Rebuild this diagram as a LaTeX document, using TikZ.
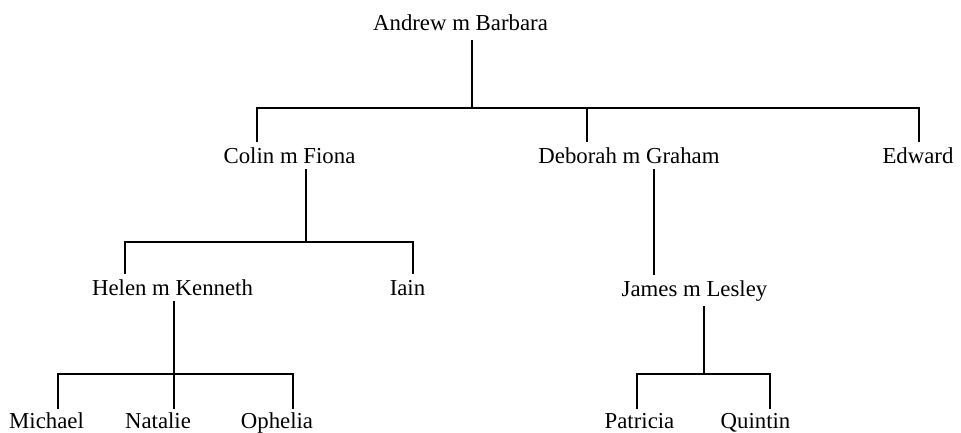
\documentclass[tikz,border=0pt]{standalone}
\usepackage{fontspec}
\setmainfont{Liberation Serif}
\begin{document}
\begin{tikzpicture}[x=1pt,y=-1pt,
  person/.style={anchor=base, inner xsep=0pt, inner ysep=6pt,
    font=\fontsize{22.8}{27}\selectfont},
  link/.style={line width=1.3pt, line cap=rect}]
\useasboundingbox (0,0) rectangle (961,432);

% generation 1
\node[person, inner ysep=10pt] (andrew) at (460.5,30) {Andrew m Barbara};
% generation 2
\node[person] (colin)   at (289.5,163) {Colin m Fiona};
\node[person] (deborah) at (629,163)   {Deborah m Graham};
\node[person] (edward)  at (918,163)   {Edward};
% generation 3
\node[person] (helen) at (172.5,295) {Helen m Kenneth};
\node[person] (iain)  at (407.5,295) {Iain};
\node[person] (james) at (694.5,296) {James m Lesley};
% generation 4
\node[person, inner ysep=4pt] (michael)  at (46.5,428)  {Michael};
\node[person, inner ysep=4pt] (natalie)  at (158,428)   {Natalie};
\node[person, inner ysep=4pt] (ophelia)  at (277,428)   {Ophelia};
\node[person, inner ysep=4pt] (patricia) at (639.5,428) {Patricia};
\node[person, inner ysep=4pt] (quintin)  at (755.5,428) {Quintin};

% bus bar junctions
\coordinate (a0) at (472,108);
\coordinate (a1) at (257,108);
\coordinate (a2) at (587,108);
\coordinate (a3) at (919,108);

\coordinate (c0) at (306,242);
\coordinate (c1) at (125,242);
\coordinate (c2) at (413,242);

\coordinate (d0) at (654,200);

\coordinate (h0) at (174,374);
\coordinate (h1) at (58,374);
\coordinate (h2) at (293,374);

\coordinate (j0) at (704,374);
\coordinate (j1) at (637,374);
\coordinate (j2) at (770,374);

% Andrew m Barbara
\draw[link] (a0 |- andrew.south) -- (a0);
\draw[link] (a1 |- colin.north) -- (a1) -- (a3) -- (a3 |- edward.north);
\draw[link] (a2) -- (a2 |- deborah.north);

% Colin m Fiona
\draw[link] (c0 |- colin.south) -- (c0);
\draw[link] (c1 |- helen.north) -- (c1) -- (c2) -- (c2 |- iain.north);

% Deborah m Graham
\draw[link] (d0 |- deborah.south) -- (d0 |- james.north);

% Helen m Kenneth
\draw[link] (h0 |- helen.south) -- (h0 |- natalie.north);
\draw[link] (h1 |- michael.north) -- (h1) -- (h2) -- (h2 |- ophelia.north);

% James m Lesley
\draw[link] (j0 |- james.south) -- (j0);
\draw[link] (j1 |- patricia.north) -- (j1) -- (j2) -- (j2 |- quintin.north);
\end{tikzpicture}
\end{document}
